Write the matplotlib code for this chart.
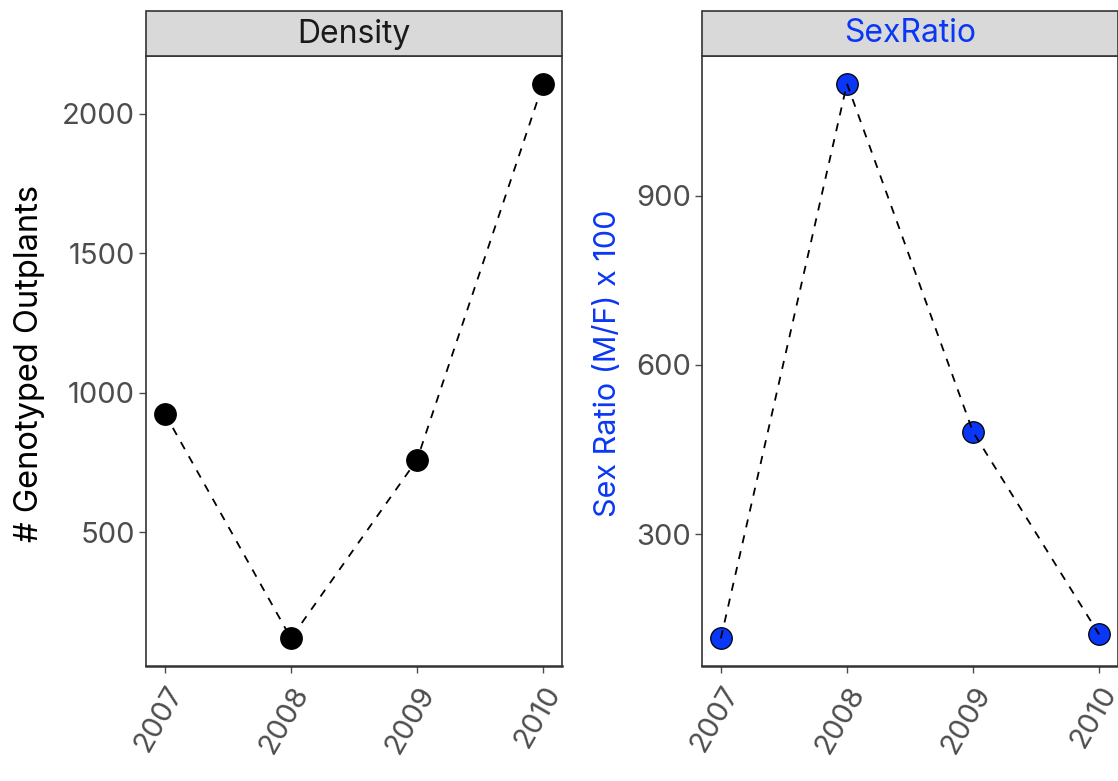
import matplotlib.pyplot as plt
from matplotlib.patches import Rectangle

# data
years = [2007, 2008, 2009, 2010]
density = [925, 120, 760, 2108]
sex_ratio = [115, 1099, 481, 122]

density_ticks = [500, 1000, 1500, 2000]
ratio_ticks = [300, 600, 900]

BLUE = '#0A37F5'
GREY_TXT = '#4D4D4D'
BORDER = '#333333'

plt.rcParams['font.family'] = ['Inter', 'DejaVu Sans']

W, H = 1118, 781
fig = plt.figure(figsize=(W / 100, H / 100), dpi=100)


def expand(vals, frac=0.05):
    lo, hi = min(vals), max(vals)
    pad = (hi - lo) * frac
    return lo - pad, hi + pad


def make_panel(x0, x1, y_vals, ticks, title, title_color, face, edge, ylabel,
               ylabel_color, ylabel_size, ylabel_x):
    top, bottom = 56, 666
    ax = fig.add_axes([x0 / W, 1 - bottom / H, (x1 - x0) / W, (bottom - top) / H])
    ax.plot(years, y_vals, linestyle=(0, (4.5, 4.5)), color='black', lw=1.3,
            zorder=3)
    ax.plot(years, y_vals, linestyle='none', marker='o', ms=15.5,
            markerfacecolor=face, markeredgecolor=edge, markeredgewidth=0.9,
            zorder=2)
    ax.set_xlim(expand(years))
    ax.set_ylim(expand(y_vals))
    ax.set_xticks(years)
    ax.set_xticklabels([str(y) for y in years], rotation=60, ha='right',
                       va='top', rotation_mode='anchor')
    ax.set_yticks(ticks)
    ax.tick_params(axis='both', labelsize=21, colors=GREY_TXT, length=5,
                   width=1, pad=3)
    ax.tick_params(axis='x', pad=6)
    for sp in ax.spines.values():
        sp.set_color(BORDER)
        sp.set_linewidth(1.2)
    ax.spines['bottom'].set_linewidth(1.8)
    # facet strip
    strip = Rectangle((x0 / W, 1 - 56 / H), (x1 - x0) / W, 45 / H,
                      transform=fig.transFigure, facecolor='#D9D9D9',
                      edgecolor=BORDER, linewidth=1.2, zorder=0)
    fig.patches.append(strip)
    fig.text((x0 + x1) / 2 / W, 1 - 34 / H, title, ha='center', va='center',
             fontsize=23, color=title_color)
    fig.text(ylabel_x / W, 1 - 363 / H, ylabel, rotation=90, ha='center',
             va='center', fontsize=ylabel_size, color=ylabel_color)
    return ax


make_panel(146, 562, density, density_ticks, 'Density', '#1A1A1A', 'black',
           'black', '# Genotyped Outplants', 'black', 23.5, 30)
make_panel(702, 1118, sex_ratio, ratio_ticks, 'SexRatio', BLUE, BLUE, 'black',
           'Sex Ratio (M/F) x 100', BLUE, 22, 608)

fig.savefig('out.png', dpi=100)
